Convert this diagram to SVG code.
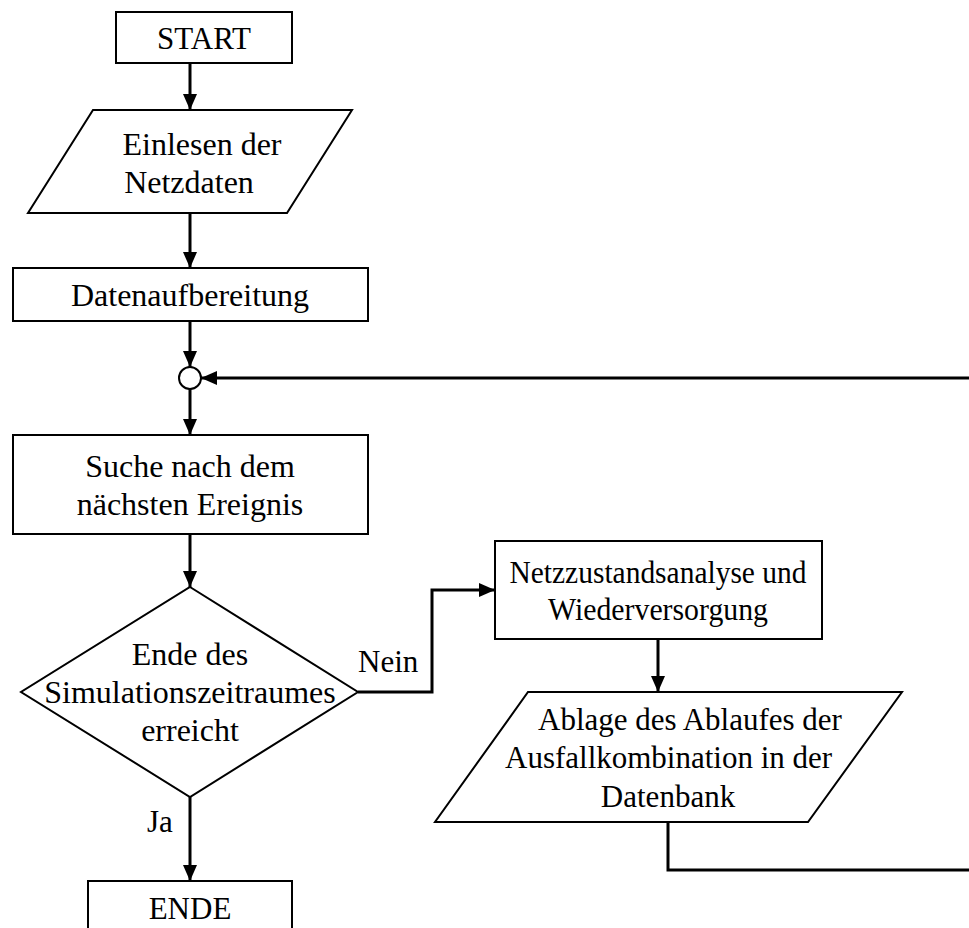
<svg xmlns="http://www.w3.org/2000/svg" width="969" height="928" viewBox="0 0 969 928">
<style>
.s{fill:#fff;stroke:#000;stroke-width:2}
.c{fill:none;stroke:#000;stroke-width:3}
text{font-family:"Liberation Serif","Times New Roman",serif;font-size:32px;fill:#000;text-anchor:middle}
.l{text-anchor:start}
.r{font-size:31px}
</style>
<defs>
<marker id="ah" viewBox="0 0 16 14" refX="16" refY="7" markerWidth="16" markerHeight="14" markerUnits="userSpaceOnUse" orient="auto">
<path d="M0,0 L16,7 L0,14 Z" fill="#000"/>
</marker>
</defs>
<rect width="969" height="928" fill="#fff"/>
<g id="connectors">
<line class="c" x1="190" y1="63" x2="190" y2="110" marker-end="url(#ah)"/>
<line class="c" x1="190" y1="213" x2="190" y2="268" marker-end="url(#ah)"/>
<line class="c" x1="190" y1="321" x2="190" y2="367" marker-end="url(#ah)"/>
<line class="c" x1="190" y1="389" x2="190" y2="435" marker-end="url(#ah)"/>
<line class="c" x1="969" y1="378" x2="201" y2="378" marker-end="url(#ah)"/>
<line class="c" x1="190" y1="534" x2="190" y2="587" marker-end="url(#ah)"/>
<line class="c" x1="190" y1="797" x2="190" y2="881" marker-end="url(#ah)"/>
<polyline class="c" points="358,692 432,692 432,590 495,590" marker-end="url(#ah)"/>
<line class="c" x1="658" y1="639" x2="658" y2="692" marker-end="url(#ah)"/>
<polyline class="c" points="668,822 668,870 969,870"/>
<text class="l r" x="358" y="672">Nein</text>
<text class="l r" x="147" y="832">Ja</text>
</g>
<g id="start">
<rect class="s" x="116" y="12" width="176" height="51"/>
<text class="r" x="204" y="49">START</text>
</g>
<g id="einlesen">
<polygon class="s" points="93,110 352,110 287,213 28,213"/>
<text x="202" y="155">Einlesen der</text>
<text x="189" y="193">Netzdaten</text>
</g>
<g id="datenaufbereitung">
<rect class="s" x="13" y="268" width="355" height="53"/>
<text x="190" y="306">Datenaufbereitung</text>
</g>
<g id="merge">
<circle class="s" cx="190" cy="378" r="11"/>
</g>
<g id="suche">
<rect class="s" x="13" y="435" width="355" height="99"/>
<text x="190" y="477">Suche nach dem</text>
<text x="190" y="515">nächsten Ereignis</text>
</g>
<g id="entscheidung">
<polygon class="s" points="190,587 358,692 190,797 21,692"/>
<text x="190" y="665">Ende des</text>
<text x="190" y="703">Simulationszeitraumes</text>
<text x="190" y="741">erreicht</text>
</g>
<g id="netzzustand">
<rect class="s" x="495" y="541" width="327" height="98"/>
<text class="r" x="658" y="583" textLength="297" lengthAdjust="spacingAndGlyphs">Netzzustandsanalyse und</text>
<text class="r" x="658" y="620" textLength="220" lengthAdjust="spacingAndGlyphs">Wiederversorgung</text>
</g>
<g id="ablage">
<polygon class="s" points="528,692 902,692 808,822 435,822"/>
<text class="l r" x="538" y="730">Ablage des Ablaufes der</text>
<text class="l r" x="505" y="768">Ausfallkombination in der</text>
<text class="r" x="668" y="807">Datenbank</text>
</g>
<g id="ende">
<rect class="s" x="88" y="881" width="204" height="60"/>
<text class="r" x="190" y="919">ENDE</text>
</g>
</svg>
